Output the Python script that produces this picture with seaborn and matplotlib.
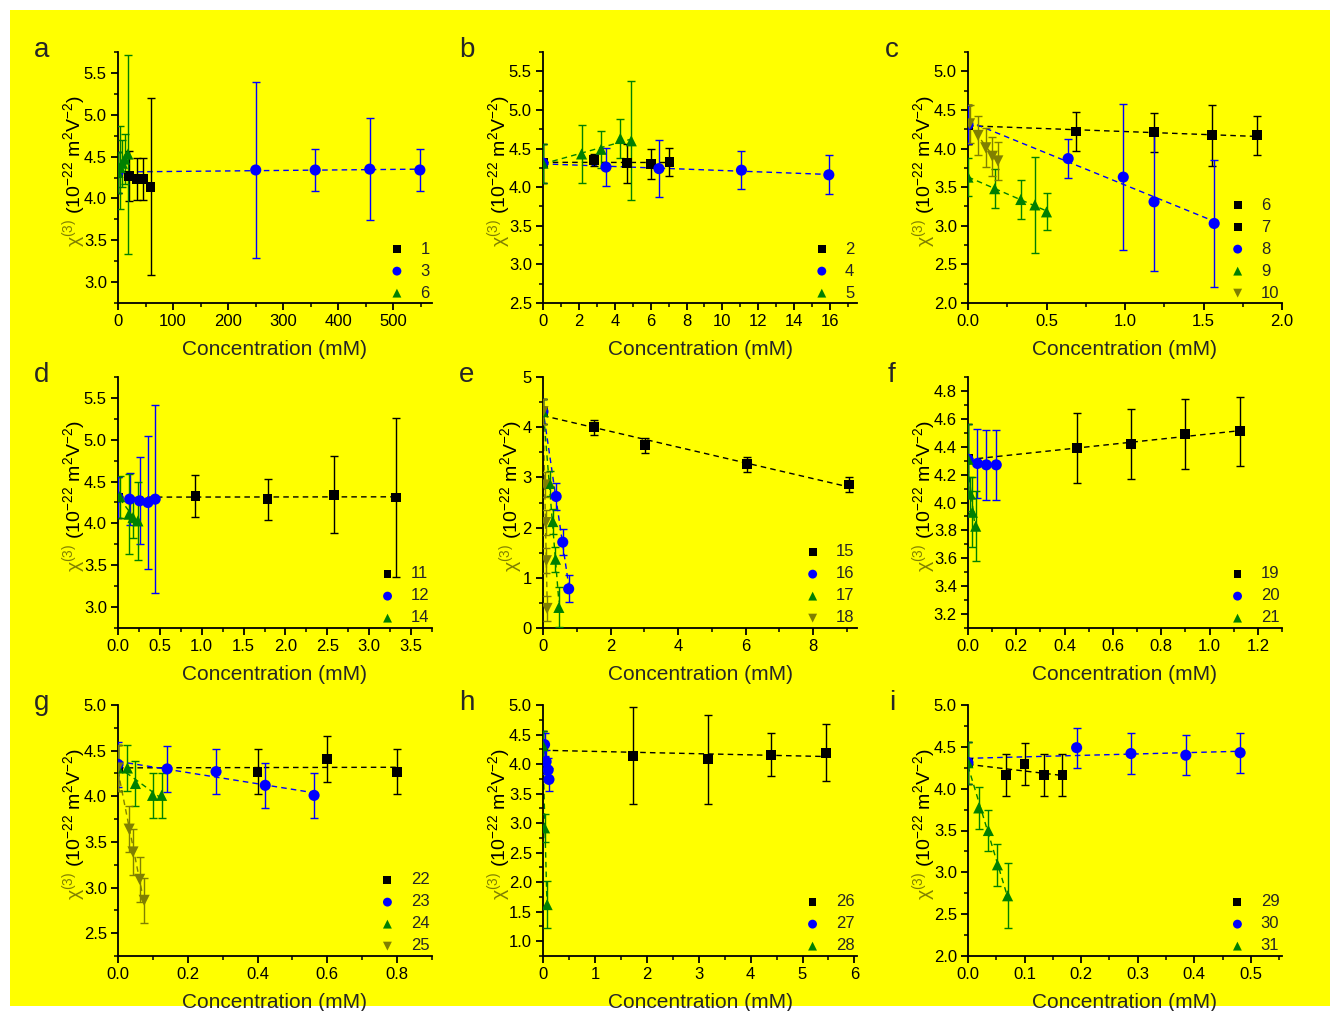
import numpy as np
import matplotlib
matplotlib.use('Agg')
import matplotlib.pyplot as plt
import seaborn as sns
from matplotlib.patches import Rectangle
from matplotlib.ticker import MultipleLocator, FormatStrFormatter

# ---- data (x = concentration in mM, y = chi3, e = error) ----
# panel a
s1_x = [0, 20, 34, 45, 59];        s1_y = [4.31, 4.27, 4.23, 4.23, 4.14]; s1_e = [0.25, 0.30, 0.25, 0.25, 1.06]
s3_x = [0, 250, 358, 457, 548];    s3_y = [4.31, 4.34, 4.34, 4.35, 4.34]; s3_e = [0.25, 1.05, 0.25, 0.61, 0.25]
s6a_x = [0, 4, 8, 12, 18];         s6a_y = [4.31, 4.37, 4.42, 4.47, 4.53]; s6a_e = [0.25, 0.50, 0.28, 0.30, 1.19]
# panel b
s2_x = [0, 2.83, 4.70, 6.03, 7.05]; s2_y = [4.31, 4.35, 4.31, 4.30, 4.33]; s2_e = [0.25, 0.08, 0.25, 0.19, 0.18]
s4_x = [0, 3.51, 6.46, 11.06, 15.93]; s4_y = [4.31, 4.26, 4.24, 4.22, 4.16]; s4_e = [0.25, 0.25, 0.37, 0.25, 0.25]
s5_x = [0, 2.15, 3.24, 4.31, 4.92]; s5_y = [4.31, 4.43, 4.49, 4.63, 4.60]; s5_e = [0.25, 0.38, 0.24, 0.25, 0.77]
# panel c
s6_x = [0];                          s6_y = [4.31];                          s6_e = [0.25]
s7_x = [0, 0.69, 1.185, 1.553, 1.84]; s7_y = [4.31, 4.22, 4.21, 4.17, 4.17]; s7_e = [0.25, 0.25, 0.25, 0.39, 0.25]
s8_x = [0, 0.638, 0.989, 1.185, 1.568]; s8_y = [4.31, 3.87, 3.63, 3.31, 3.03]; s8_e = [0.25, 0.25, 0.95, 0.90, 0.82]
s9_x = [0, 0.17, 0.336, 0.426, 0.50]; s9_y = [3.63, 3.48, 3.34, 3.27, 3.18]; s9_e = [0.25, 0.25, 0.25, 0.62, 0.24]
s10_x = [0.01, 0.064, 0.113, 0.155, 0.19]; s10_y = [4.32, 4.17, 4.01, 3.90, 3.84]; s10_e = [0.25, 0.25, 0.25, 0.25, 0.25]
# panel d
s11_x = [0, 0.925, 1.786, 2.58, 3.32]; s11_y = [4.31, 4.33, 4.29, 4.34, 4.31]; s11_e = [0.25, 0.25, 0.245, 0.46, 0.95]
s12_x = [0, 0.139, 0.258, 0.357, 0.444]; s12_y = [4.31, 4.29, 4.27, 4.25, 4.29]; s12_e = [0.25, 0.31, 0.52, 0.79, 1.12]
s14_x = [0.02, 0.131, 0.179, 0.238]; s14_y = [4.32, 4.11, 4.07, 4.03]; s14_e = [0.25, 0.48, 0.24, 0.47]
# panel e
s15_x = [0, 1.51, 3.02, 6.05, 9.07]; s15_y = [4.31, 4.00, 3.64, 3.26, 2.86]; s15_e = [0.25, 0.15, 0.15, 0.15, 0.15]
s16_x = [0, 0.39, 0.585, 0.76];      s16_y = [4.31, 2.62, 1.71, 0.78];       s16_e = [0.25, 0.26, 0.26, 0.27]
s17_x = [0, 0.195, 0.29, 0.37, 0.47]; s17_y = [4.31, 2.88, 2.12, 1.37, 0.41]; s17_e = [0.25, 0.25, 0.25, 0.25, 0.40]
s18_x = [0, 0.05, 0.08, 0.10, 0.12]; s18_y = [4.31, 2.85, 2.10, 1.34, 0.39]; s18_e = [0.25, 0.25, 0.25, 0.25, 0.25]
# panel f
s19_x = [0, 0.452, 0.676, 0.90, 1.127]; s19_y = [4.31, 4.39, 4.42, 4.49, 4.51]; s19_e = [0.25, 0.25, 0.25, 0.25, 0.25]
s20_x = [0, 0.039, 0.076, 0.117];    s20_y = [4.31, 4.28, 4.27, 4.27];       s20_e = [0.25, 0.25, 0.25, 0.25]
s21_x = [0, 0.01, 0.018, 0.032];     s21_y = [4.31, 4.06, 3.93, 3.83];       s21_e = [0.25, 0.12, 0.25, 0.25]
# panel g
s22_x = [0, 0.40, 0.599, 0.80];      s22_y = [4.31, 4.27, 4.41, 4.27];       s22_e = [0.25, 0.25, 0.25, 0.25]
s23_x = [0, 0.141, 0.281, 0.422, 0.562]; s23_y = [4.35, 4.30, 4.27, 4.12, 4.01]; s23_e = [0.25, 0.25, 0.25, 0.25, 0.25]
s24_x = [0, 0.027, 0.05, 0.099, 0.125]; s24_y = [4.31, 4.31, 4.14, 4.01, 4.01]; s24_e = [0.25, 0.25, 0.25, 0.25, 0.25]
s25_x = [0, 0.032, 0.043, 0.062, 0.075]; s25_y = [4.31, 3.64, 3.39, 3.09, 2.86]; s25_e = [0.25, 0.25, 0.25, 0.25, 0.25]
# panel h
s26_x = [0, 1.74, 3.18, 4.40, 5.46]; s26_y = [4.31, 4.14, 4.08, 4.16, 4.19]; s26_e = [0.25, 0.82, 0.75, 0.36, 0.48]
s27_x = [0, 0.03, 0.06, 0.10, 0.115]; s27_y = [4.31, 4.33, 4.04, 3.90, 3.74]; s27_e = [0.25, 0.2, 0.2, 0.2, 0.2]
s28_x = [0, 0.03, 0.08];             s28_y = [4.31, 2.92, 1.62];             s28_e = [0.25, 0.24, 0.40]
# panel i
s29_x = [0, 0.067, 0.10, 0.134, 0.167]; s29_y = [4.31, 4.16, 4.29, 4.16, 4.16]; s29_e = [0.25, 0.25, 0.25, 0.25, 0.25]
s30_x = [0, 0.192, 0.288, 0.385, 0.481]; s30_y = [4.31, 4.49, 4.42, 4.40, 4.43]; s30_e = [0.25, 0.24, 0.24, 0.24, 0.24]
s31_x = [0, 0.019, 0.036, 0.052, 0.07]; s31_y = [4.31, 3.77, 3.50, 3.09, 2.72]; s31_e = [0.25, 0.25, 0.25, 0.25, 0.39]

# marker styles: (marker, color, size)
sty = {
    'sq': ('s', '#000000', 50),
    'ci': ('o', '#0000FF', 64),
    'up': ('^', '#008000', 64),
    'dn': ('v', '#808000', 64),
}

# letter, series, xlim, ylim, x major/minor, y major/minor, x fmt, y fmt, ylabel offset (px)
panels = [
    ('a', [('1', s1_x, s1_y, s1_e, 'sq'), ('3', s3_x, s3_y, s3_e, 'ci'), ('6', s6a_x, s6a_y, s6a_e, 'up')],
     (0, 570), (2.75, 5.75), (100, 50), (0.5, 0.25), '%d', '%.1f', -38),
    ('b', [('2', s2_x, s2_y, s2_e, 'sq'), ('4', s4_x, s4_y, s4_e, 'ci'), ('5', s5_x, s5_y, s5_e, 'up')],
     (0, 17.5), (2.5, 5.75), (2, 1), (0.5, 0.25), '%d', '%.1f', -38),
    ('c', [('6', s6_x, s6_y, s6_e, 'sq'), ('7', s7_x, s7_y, s7_e, 'sq'), ('8', s8_x, s8_y, s8_e, 'ci'),
           ('9', s9_x, s9_y, s9_e, 'up'), ('10', s10_x, s10_y, s10_e, 'dn')],
     (0, 2.0), (2.0, 5.25), (0.5, 0.25), (0.5, 0.25), '%.1f', '%.1f', -38),
    ('d', [('11', s11_x, s11_y, s11_e, 'sq'), ('12', s12_x, s12_y, s12_e, 'ci'), ('14', s14_x, s14_y, s14_e, 'up')],
     (0, 3.75), (2.75, 5.75), (0.5, 0.25), (0.5, 0.25), '%.1f', '%.1f', -38),
    ('e', [('15', s15_x, s15_y, s15_e, 'sq'), ('16', s16_x, s16_y, s16_e, 'ci'), ('17', s17_x, s17_y, s17_e, 'up'),
           ('18', s18_x, s18_y, s18_e, 'dn')],
     (0, 9.3), (0, 5), (2, 1), (1, 0.5), '%d', '%d', -26),
    ('f', [('19', s19_x, s19_y, s19_e, 'sq'), ('20', s20_x, s20_y, s20_e, 'ci'), ('21', s21_x, s21_y, s21_e, 'up')],
     (0, 1.3), (3.1, 4.9), (0.2, 0.1), (0.2, 0.1), '%.1f', '%.1f', -38),
    ('g', [('22', s22_x, s22_y, s22_e, 'sq'), ('23', s23_x, s23_y, s23_e, 'ci'), ('24', s24_x, s24_y, s24_e, 'up'),
           ('25', s25_x, s25_y, s25_e, 'dn')],
     (0, 0.9), (2.25, 5.0), (0.2, 0.1), (0.5, 0.25), '%.1f', '%.1f', -38),
    ('h', [('26', s26_x, s26_y, s26_e, 'sq'), ('27', s27_x, s27_y, s27_e, 'ci'), ('28', s28_x, s28_y, s28_e, 'up')],
     (0, 6.05), (0.75, 5.0), (1, 0.5), (0.5, 0.25), '%d', '%.1f', -38),
    ('i', [('29', s29_x, s29_y, s29_e, 'sq'), ('30', s30_x, s30_y, s30_e, 'ci'), ('31', s31_x, s31_y, s31_e, 'up')],
     (0, 0.555), (2.0, 5.0), (0.1, 0.05), (0.5, 0.25), '%.1f', '%.1f', -38),
]

sns.set_theme(style='ticks', rc={
    'axes.linewidth': 1.3, 'xtick.major.width': 1.3, 'ytick.major.width': 1.3,
    'xtick.minor.width': 1.1, 'ytick.minor.width': 1.1,
    'xtick.major.size': 5, 'ytick.major.size': 5, 'xtick.minor.size': 3, 'ytick.minor.size': 3,
    'xtick.direction': 'out', 'ytick.direction': 'out',
    'axes.edgecolor': 'black', 'xtick.color': 'black', 'ytick.color': 'black',
})
plt.rcParams['font.family'] = ['Liberation Sans', 'DejaVu Sans']
plt.rcParams['mathtext.fontset'] = 'custom'
plt.rcParams['mathtext.rm'] = 'Liberation Sans'
plt.rcParams['mathtext.it'] = 'Liberation Sans:italic'

W, H = 1337, 1011
fig = plt.figure(figsize=(W / 100, H / 100), dpi=100)
fig.patch.set_facecolor('white')
fig.patches.append(Rectangle((10 / W, 5 / H), 1320 / W, 996 / H, transform=fig.transFigure,
                             facecolor='#FFFF00', edgecolor='none', zorder=-10))

col_left = [118, 543, 968]
row_bottom = [303, 628, 956]
ax_w, ax_h = 314, 251

for k, (letter, series, xlim, ylim, xt, yt, xf, yf, yoff) in enumerate(panels):
    r, c = divmod(k, 3)
    left, bottom = col_left[c], row_bottom[r]
    ax = fig.add_axes([left / W, 1 - bottom / H, ax_w / W, ax_h / H])
    ax.set_facecolor('none')

    for lab, xs, ys, es, kind in series:
        m, col, sz = sty[kind]
        xs = np.asarray(xs, float)
        ys = np.asarray(ys, float)
        if len(xs) > 2:
            sns.regplot(x=xs, y=ys, ax=ax, scatter=False, ci=None, truncate=True, color=col,
                        line_kws=dict(ls=(0, (4, 3)), lw=1.0))
        ax.errorbar(xs, ys, yerr=es, fmt='none', ecolor=col, elinewidth=1.0, capsize=3, capthick=1.0, zorder=3)
        sns.scatterplot(x=xs, y=ys, ax=ax, marker=m, color=col, s=sz, edgecolor='none', label=lab, zorder=4)

    ax.set_xlim(*xlim)
    ax.set_ylim(*ylim)
    ax.xaxis.set_major_locator(MultipleLocator(xt[0]))
    ax.xaxis.set_minor_locator(MultipleLocator(xt[1]))
    ax.yaxis.set_major_locator(MultipleLocator(yt[0]))
    ax.yaxis.set_minor_locator(MultipleLocator(yt[1]))
    ax.xaxis.set_major_formatter(FormatStrFormatter(xf))
    ax.yaxis.set_major_formatter(FormatStrFormatter(yf))
    ax.tick_params(labelsize=12, pad=3)
    sns.despine(ax=ax)

    ax.set_xlabel('Concentration (mM)', fontsize=15, labelpad=8)
    ax.set_ylabel('')
    # two-colour y label: chi part olive, unit part black
    xa = yoff / ax_w
    ax.text(xa, 0.335, 'χ$^{(3)}$', transform=ax.transAxes, rotation=90, rotation_mode='anchor',
            ha='right', va='baseline', color='#808000', fontsize=14)
    ax.text(xa, 0.335, ' (10$^{-22}$ m$^2$V$^{-2}$)', transform=ax.transAxes, rotation=90,
            rotation_mode='anchor', ha='left', va='baseline', color='black', fontsize=14)

    ax.legend(loc='lower right', frameon=False, fontsize=12, markerscale=0.8,
              handletextpad=0.9, labelspacing=0.42, borderaxespad=0.05, borderpad=0.1,
              handlelength=1.0)

    fig.text((left - 76) / W, 1 - (bottom - ax_h - 2) / H, letter, fontsize=20, ha='center', va='center')

fig.savefig('out.png', dpi=100, facecolor=fig.get_facecolor())
